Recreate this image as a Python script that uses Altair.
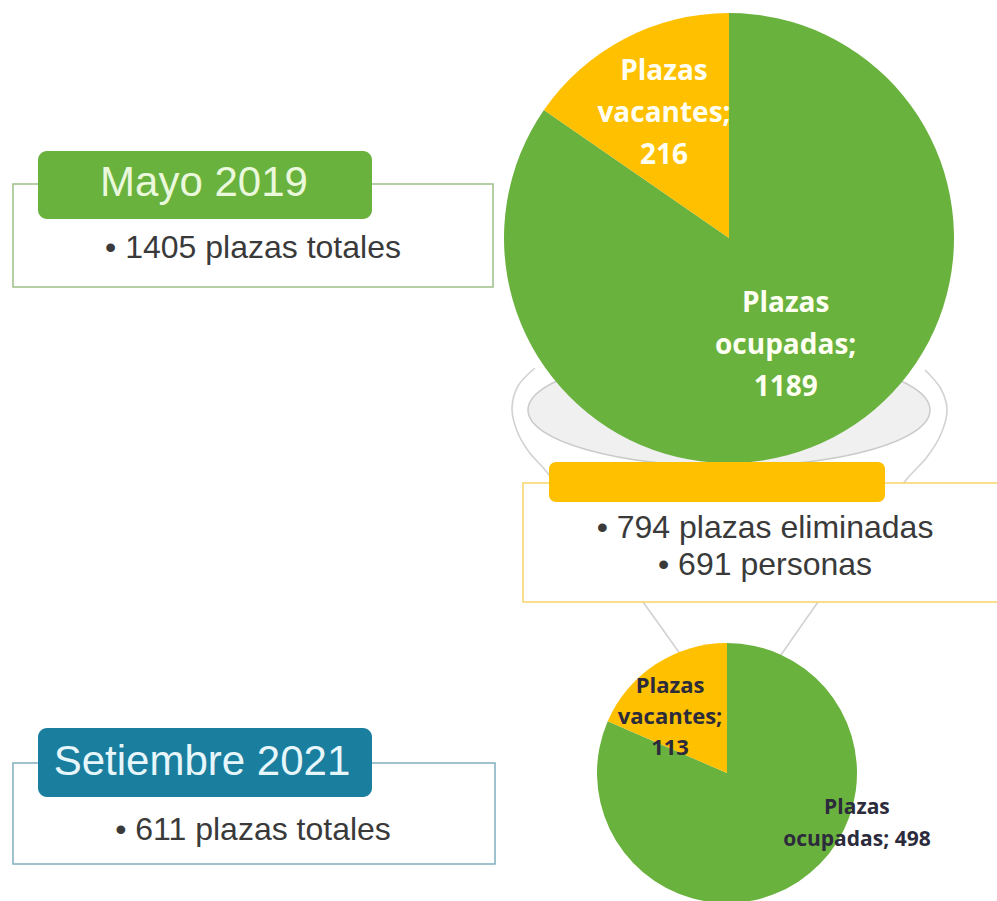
import altair as alt
import pandas as pd

# ---------------- data ----------------
categories = ["Plazas ocupadas", "Plazas vacantes"]
short_words = ["ocupadas", "vacantes"]
values_2019 = [1189, 216]
values_2021 = [498, 113]
periods = ["Mayo 2019", "Setiembre 2021"]
totals = [1405, 611]
removed_places = 794
removed_people = 691

# ---------------- style ----------------
GREEN = "#6AB23E"
ORANGE = "#FFC000"
TEAL = "#1A7E9F"
DARK = "#3A3A3A"
SANS = "Liberation Sans"
BOLD = "Open Sans"

W, H = 997, 901
one = pd.DataFrame({"k": [0]})


def pie_frame(vals, small=False):
    labels = []
    for w, v in zip(short_words, vals):
        if small and w == "ocupadas":
            labels.append(f"Plazas\n{w}; {v}")
        else:
            labels.append(f"Plazas\n{w};\n{v}")
    return pd.DataFrame({"cat": categories, "v": vals, "ord": [0, 1], "label": labels})


def pie(vals, cx, cy, r, label_specs, small=False):
    df = pie_frame(vals, small)
    base = alt.Chart(df).encode(
        theta=alt.Theta("v:Q", stack="normalize"),
        order=alt.Order("ord:Q"),
        x=alt.value(cx),
        y=alt.value(cy),
    )
    arc = base.mark_arc(outerRadius=r).encode(
        color=alt.Color(
            "cat:N",
            scale=alt.Scale(domain=categories, range=[GREEN, ORANGE]),
            legend=None,
        )
    )
    layers = [arc]
    for cat, spec in label_specs:
        layers.append(
            base.mark_text(
                align="center",
                baseline="middle",
                lineBreak="\n",
                font=BOLD,
                fontWeight="bold",
                **spec,
            ).encode(
                text=alt.condition(alt.datum.cat == cat, "label:N", alt.value(""))
            )
        )
    return layers


def rect(x, x2, y, y2, **kw):
    return alt.Chart(one).mark_rect(**kw).encode(
        x=alt.value(x), x2=alt.value(x2), y=alt.value(y), y2=alt.value(y2)
    )


def text(s, x, y, **kw):
    return alt.Chart(one).mark_text(align="center", baseline="middle", **kw).encode(
        x=alt.value(x), y=alt.value(y), text=alt.value(s)
    )


# decorative funnel outline (pixel layout)
funnel = pd.DataFrame(
    {
        "x": [535, 518, 512, 517, 529, 546, 643, 690,
              925, 941, 947, 941, 927, 906, 818, 772],
        "y": [368, 386, 408, 431, 452, 471, 602, 668,
              370, 389, 410, 434, 457, 480, 602, 668],
        "side": ["l"] * 8 + ["r"] * 8,
        "i": list(range(8)) * 2,
    }
)
funnel_layer = alt.Chart(funnel).mark_line(
    color="#D2D2D2", strokeWidth=1.6, interpolate="catmull-rom"
).encode(
    x=alt.X("x:Q", scale=None, axis=None),
    y=alt.Y("y:Q", scale=None, axis=None),
    detail="side:N",
    order="i:Q",
)

ellipse = alt.Chart(one).mark_point(
    shape="M -1 0 A 1 0.28 0 1 1 1 0 A 1 0.28 0 1 1 -1 0 Z",
    size=402 * 402,
    filled=True,
    fill="#F0F0F0",
    stroke="#CACACA",
    strokeWidth=1.5,
    opacity=1,
).encode(x=alt.value(729), y=alt.value(410))

big = pie(
    values_2019, 729, 238, 225,
    [
        ("Plazas vacantes", dict(radius=140, dy=-42, fontSize=28, lineHeight=42, color="#FFFFF2")),
        ("Plazas ocupadas", dict(radius=122, dy=-42, fontSize=28, lineHeight=42, color="#FFFFF2")),
    ],
)
small = pie(
    values_2021, 727, 773, 130,
    [
        ("Plazas vacantes", dict(radius=80, dx=-13, dy=-20, fontSize=22, lineHeight=31, color="#2B2B3C")),
        ("Plazas ocupadas", dict(radius=60, dx=97, dy=-15, fontSize=21, lineHeight=32, color="#2B2B3C")),
    ],
    small=True,
)

layers = [funnel_layer, ellipse] + big + small + [
    # Mayo 2019 panel
    rect(13, 493, 184, 287, fill="white", stroke="#9DBF88", strokeWidth=1.5),
    rect(38, 372, 151, 219, fill=GREEN, cornerRadius=9),
    text(periods[0], 204, 183, font=SANS, fontSize=42, color="#EAF8DC"),
    text(f"•  {totals[0]} plazas totales", 253, 248, font=SANS, fontSize=32, color=DARK),
    # eliminated panel
    rect(523, 1010, 483, 602, fill="white", stroke="#F7D46A", strokeWidth=1.5),
    rect(549, 885, 462, 502, fill=ORANGE, cornerRadius=7),
    text(f"•  {removed_places} plazas eliminadas", 765, 528, font=SANS, fontSize=32, color=DARK),
    text(f"•  {removed_people} personas", 765, 565, font=SANS, fontSize=32, color=DARK),
    # Setiembre 2021 panel
    rect(13, 495, 763, 864, fill="white", stroke="#7FAFBE", strokeWidth=1.5),
    rect(38, 372, 728, 797, fill=TEAL, cornerRadius=9),
    text(periods[1], 202, 762, font=SANS, fontSize=42, color="#E6F6FA"),
    text(f"•  {totals[1]} plazas totales", 253, 830, font=SANS, fontSize=32, color=DARK),
]

chart = (
    alt.layer(*layers)
    .properties(width=W, height=H, autosize=alt.AutoSizeParams(type="none"), padding=0)
    .configure_view(stroke=None)
)

chart.save("out.html", embed_options={"renderer": "svg", "actions": False})
